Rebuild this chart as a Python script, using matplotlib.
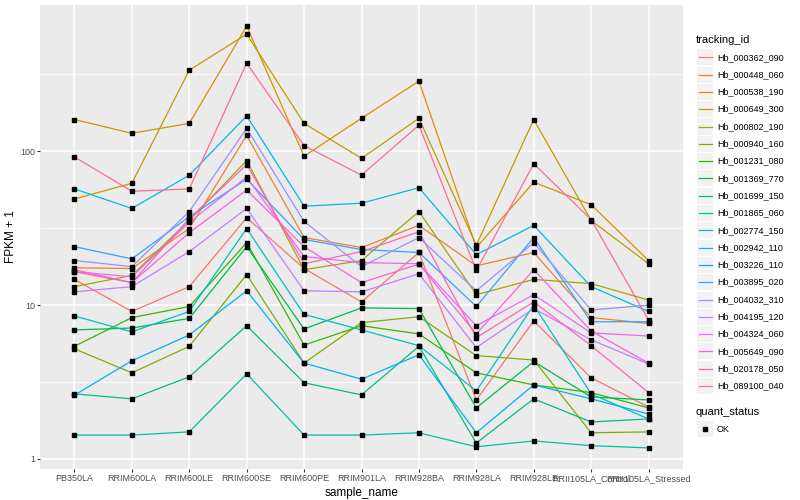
import numpy as np
import matplotlib
matplotlib.use("Agg")
import matplotlib.pyplot as plt
from matplotlib.patches import Rectangle
from matplotlib.lines import Line2D

plt.rcParams['font.family'] = ['Liberation Sans', 'DejaVu Sans']

# samples on the x axis
samples = ["PB350LA", "RRIM600LA", "RRIM600LE", "RRIM600SE", "RRIM600PE",
           "RRIM901LA", "RRIM928BA", "RRIM928LA", "RRIM928LE",
           "RRII105LA_Control", "RRII105LA_Stressed"]

# FPKM + 1 per gene
hb_000362_090 = [14.7, 9.1, 13.2, 37, 17.3, 10.5, 22, 2.42, 7.9, 3.37, 2.18]
hb_000448_060 = [17.5, 17.3, 31.5, 127, 27.5, 23.7, 33, 18, 22, 8.3, 7.6]
hb_000538_190 = [161, 131, 152, 652, 93, 164, 286, 23.7, 63, 45, 19.5]
hb_000649_300 = [49, 62, 337, 578, 152, 90, 164, 24.5, 161, 35.5, 18.6]
hb_000802_190 = [13.2, 15.6, 35.6, 87, 17, 19.5, 40.6, 11.7, 14.7, 13.8, 10.8]
hb_000940_160 = [5.2, 3.63, 5.4, 15.8, 4.2, 7.7, 8.4, 4.7, 4.4, 1.48, 1.5]
hb_001231_080 = [5.4, 8.3, 9.8, 25.5, 5.5, 7.35, 6.5, 3.63, 3.03, 2.7, 2.15]
hb_001369_770 = [6.9, 7.1, 8.2, 24, 7.0, 9.6, 9.5, 2.15, 4.3, 2.53, 2.42]
hb_001699_150 = [2.65, 2.46, 3.42, 7.35, 3.13, 2.61, 5.4, 1.27, 2.46, 1.74, 1.82]
hb_001865_060 = [1.43, 1.43, 1.5, 3.58, 1.43, 1.43, 1.48, 1.2, 1.31, 1.22, 1.18]
hb_002774_150 = [8.5, 6.7, 9.1, 31.5, 8.7, 6.9, 5.45, 2.77, 10, 2.65, 1.82]
hb_002942_110 = [57, 42.5, 70, 170, 44, 46, 58, 21.3, 33, 13.2, 9.1]
hb_003226_110 = [2.6, 4.35, 6.4, 12.4, 4.2, 3.3, 4.76, 1.48, 3.03, 2.46, 1.96]
hb_003895_020 = [24, 20, 37.6, 66, 26.7, 23, 22, 9.8, 27.5, 7.8, 7.8]
hb_004032_310 = [19.5, 17.8, 40.6, 141, 35, 17.8, 27.5, 12.4, 25.5, 9.3, 10]
hb_004195_120 = [12.2, 13.2, 22.3, 42.5, 12.4, 12.2, 16, 5.3, 9.5, 5.95, 4.15]
hb_004324_060 = [16.5, 15.3, 34.5, 68, 20.7, 18.9, 18.6, 7.35, 11.7, 6.6, 6.3]
hb_005649_090 = [17, 14, 29.6, 56, 24, 14, 18.5, 6.5, 17, 6.8, 4.2]
hb_020178_050 = [16.5, 14, 36.5, 82, 18.6, 22.3, 30, 6.15, 10.5, 5.45, 2.7]
hb_089100_040 = [92, 55, 57, 374, 109, 70, 148, 16.8, 83, 36, 8.0]

tracking_ids = ["Hb_000362_090", "Hb_000448_060", "Hb_000538_190", "Hb_000649_300",
                "Hb_000802_190", "Hb_000940_160", "Hb_001231_080", "Hb_001369_770",
                "Hb_001699_150", "Hb_001865_060", "Hb_002774_150", "Hb_002942_110",
                "Hb_003226_110", "Hb_003895_020", "Hb_004032_310", "Hb_004195_120",
                "Hb_004324_060", "Hb_005649_090", "Hb_020178_050", "Hb_089100_040"]
series = [hb_000362_090, hb_000448_060, hb_000538_190, hb_000649_300,
          hb_000802_190, hb_000940_160, hb_001231_080, hb_001369_770,
          hb_001699_150, hb_001865_060, hb_002774_150, hb_002942_110,
          hb_003226_110, hb_003895_020, hb_004032_310, hb_004195_120,
          hb_004324_060, hb_005649_090, hb_020178_050, hb_089100_040]

# ggplot default hue palette for 20 levels
colors = ["#F8766D", "#EA8331", "#D89000", "#C09B00", "#A3A500", "#7CAE00",
          "#39B600", "#00BB4E", "#00BF7D", "#00C1A3", "#00BFC4", "#00BAE0",
          "#00B0F6", "#35A2FF", "#9590FF", "#C77CFF", "#E76BF3", "#FA62DB",
          "#FF62BC", "#FF6C91"]

W, H = 800, 500
fig = plt.figure(figsize=(8, 5), dpi=100)
ax = fig.add_axes([40 / W, 1 - 469 / H, (683 - 40) / W, (469 - 5) / H])
ax.set_facecolor("#EBEBEB")

x = np.arange(len(samples))
for vals, col in zip(series, colors):
    ax.plot(x, vals, color=col, lw=0.9, zorder=3)
for vals in series:
    ax.plot(x, vals, ls="none", marker="s", ms=2.3, color="black", zorder=4)

ax.set_yscale("log")
allv = np.log10(np.concatenate([np.array(s) for s in series]))
lo, hi = allv.min(), allv.max()
pad = (hi - lo) * 0.05
ax.set_ylim(10 ** (lo - pad), 10 ** (hi + pad))
ax.set_xlim(-0.6, len(samples) - 0.4)

ax.set_yticks([1, 10, 100])
ax.set_yticklabels(["1", "10", "100"])
ax.set_yticks([10 ** 0.5, 10 ** 1.5, 10 ** 2.5], minor=True)
ax.set_yticklabels([], minor=True)
ax.set_xticks(x)
ax.set_xticklabels(samples)

ax.grid(which="major", color="white", lw=1.1, zorder=0)
ax.grid(which="minor", axis="y", color="white", lw=0.55, zorder=0)
ax.set_axisbelow(True)
for s in ax.spines.values():
    s.set_visible(False)
ax.tick_params(which="major", length=2.2, width=0.8, color="#333333",
               labelsize=6.5, labelcolor="#4D4D4D", pad=1.5)
ax.tick_params(which="minor", length=0)

ax.set_xlabel("sample_name", fontsize=8.5)
ax.set_ylabel("FPKM + 1", fontsize=8.5)
ax.xaxis.set_label_coords(0.5, -0.038)
ax.yaxis.set_label_coords(-0.036, 0.5)

# legend, ggplot style
def fx(px):
    return px / W

def fy(py):
    return 1 - py / H

fig.text(fx(696), fy(40), "tracking_id", fontsize=8, va="center", ha="left")
for i, (name, col) in enumerate(zip(tracking_ids, colors)):
    cy = 57.3 + i * 17.3
    fig.add_artist(Rectangle((fx(697), fy(cy + 8)), 16 / W, 16 / H,
                             transform=fig.transFigure, facecolor="#F2F2F2",
                             edgecolor="none"))
    fig.add_artist(Line2D([fx(698.5), fx(711.5)], [fy(cy), fy(cy)],
                          transform=fig.transFigure, color=col, lw=0.9))
    fig.text(fx(717), fy(cy), name, fontsize=6.5, va="center", ha="left")

fig.text(fx(696), fy(412), "quant_status", fontsize=8, va="center", ha="left")
fig.add_artist(Rectangle((fx(697), fy(429 + 8)), 16 / W, 16 / H,
                         transform=fig.transFigure, facecolor="#F2F2F2",
                         edgecolor="none"))
fig.add_artist(Line2D([fx(705)], [fy(429)], transform=fig.transFigure,
                      marker="s", ms=2.3, color="black", ls="none"))
fig.text(fx(717), fy(429), "OK", fontsize=6.5, va="center", ha="left")

fig.savefig("out.png", dpi=100)
